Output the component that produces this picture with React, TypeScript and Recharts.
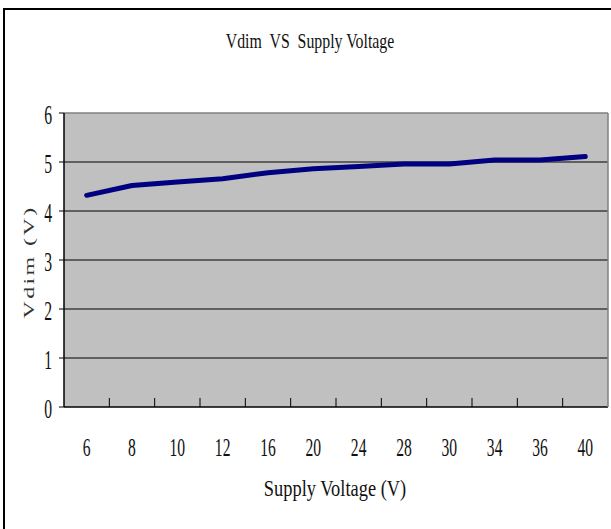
import React from "react"
import {
  CartesianGrid,
  Line,
  LineChart,
  ReferenceLine,
  XAxis,
  YAxis,
} from "recharts"

const categories = ["6", "8", "10", "12", "16", "20", "24", "28", "30", "34", "36", "40"]
const vdimValues = [4.32, 4.52, 4.59, 4.66, 4.78, 4.86, 4.91, 4.96, 4.96, 5.04, 5.04, 5.11]
const yTicks = [0, 1, 2, 3, 4, 5, 6]
const gridValues = [1, 2, 3, 4, 5]

const chartData = categories.map((cat, i) => ({ cat, vdim: vdimValues[i] }))

const FONT = "'Liberation Serif', 'DejaVu Serif', serif"

function XTick(props: any) {
  const { x, y, payload, index } = props
  const isLast = index === categories.length - 1
  const edge = x + (payload.offset || 0)
  return (
    <g>
      {!isLast && <line x1={edge} x2={edge} y1={y} y2={y - 9} stroke="#000" strokeWidth={1} />}
      <text
        transform={`translate(${x},${y + 49}) scale(0.6,1)`}
        textAnchor="middle"
        fontFamily={FONT}
        fontSize={26}
        fill="#111"
      >
        {payload.value}
      </text>
    </g>
  )
}

function YTick(props: any) {
  const { x, y, payload } = props
  return (
    <text
      transform={`translate(${x - 7},${y + 11}) scale(0.58,1)`}
      textAnchor="end"
      fontFamily={FONT}
      fontSize={27}
      fill="#111"
    >
      {payload.value}
    </text>
  )
}

function XTitle(props: any) {
  const { viewBox } = props
  const cx = viewBox.x + viewBox.width / 2
  return (
    <text
      transform={`translate(${cx - 1},${viewBox.y + 89}) scale(0.8,1)`}
      textAnchor="middle"
      fontFamily={FONT}
      fontSize={23}
      fill="#111"
    >
      Supply Voltage (V)
    </text>
  )
}

function YTitle(props: any) {
  const { viewBox } = props
  const cy = viewBox.y + viewBox.height / 2
  return (
    <text
      transform={`translate(34,${cy + 2}) rotate(-90) scale(1.2,0.75)`}
      textAnchor="middle"
      fontFamily={FONT}
      fontSize={20}
      letterSpacing={2}
      fill="#333"
    >
      Vdim (V)
    </text>
  )
}

export default function App() {
  return (
    <div style={{ position: "absolute", left: 0, top: 0, width: 611, height: 529, background: "#fff", overflow: "hidden" }}>
      <div
        style={{
          position: "absolute",
          left: 3,
          top: 8,
          width: 640,
          height: 560,
          borderLeft: "2px solid #000",
          borderTop: "2px solid #000",
        }}
      />
      <div
        style={{
          position: "absolute",
          left: 310,
          top: 30,
          transform: "translateX(-50%) scaleX(0.72)",
          fontFamily: FONT,
          fontSize: 22,
          lineHeight: "22px",
          whiteSpace: "pre",
          color: "#111",
        }}
      >
        {"Vdim  VS  Supply Voltage"}
      </div>
      <div style={{ position: "absolute", left: 0, top: 0 }}>
        <LineChart width={611} height={529} data={chartData} margin={{ top: 113, right: 0, left: 0, bottom: 0 }}>
          <CartesianGrid
            fill="#c0c0c0"
            stroke="#000"
            vertical={false}
            horizontalValues={gridValues}
          />
          <XAxis
            dataKey="cat"
            scale="band"
            height={122}
            interval={0}
            tickLine={false}
            tickSize={0}
            tickMargin={0}
            axisLine={{ stroke: "#000", strokeWidth: 1.5 }}
            tick={<XTick />}
            label={{ content: <XTitle /> }}
          />
          <YAxis
            domain={[0, 6]}
            ticks={yTicks}
            width={64}
            tickSize={5}
            tickMargin={0}
            tickLine={{ stroke: "#000" }}
            axisLine={{ stroke: "#000", strokeWidth: 1.5 }}
            tick={<YTick />}
            label={{ content: <YTitle /> }}
          />
          <YAxis
            yAxisId="frame"
            orientation="right"
            domain={[0, 6]}
            width={3}
            tick={false}
            tickLine={false}
            axisLine={{ stroke: "#808080", strokeWidth: 1.5 }}
          />
          <ReferenceLine y={6} stroke="#808080" strokeWidth={1.5} />
          <Line
            dataKey="vdim"
            stroke="#000080"
            strokeWidth={5}
            strokeLinecap="round"
            strokeLinejoin="round"
            dot={false}
            activeDot={false}
            isAnimationActive={false}
          />
        </LineChart>
      </div>
    </div>
  )
}
